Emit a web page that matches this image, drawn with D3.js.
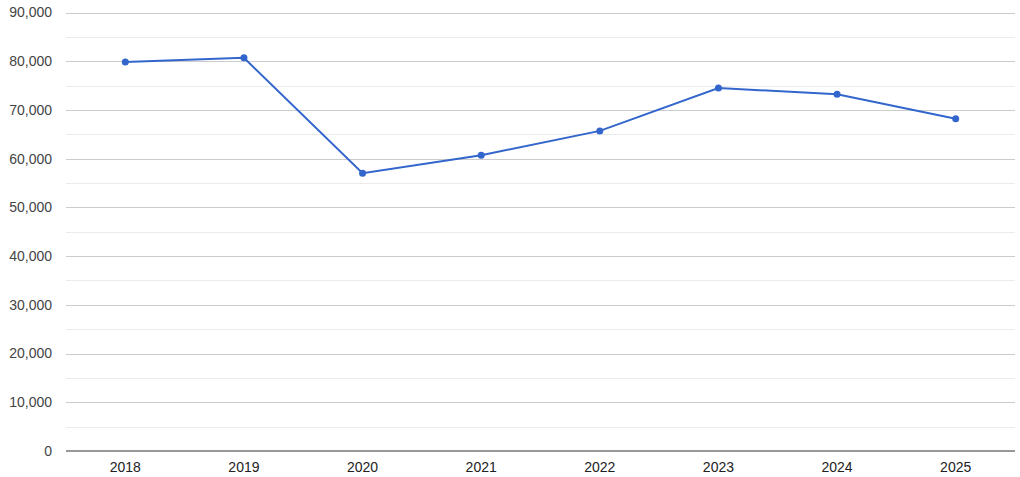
<!DOCTYPE html>
<html><head><meta charset="utf-8">
<script src="https://cdn.jsdelivr.net/npm/d3@7"></script>
<style>body{margin:0;background:#fff;}svg{display:block;font-family:"Liberation Sans",Arial,sans-serif;}</style>
</head><body><svg id="c" width="1020" height="477"></svg>
<script>
const years = ["2018","2019","2020","2021","2022","2023","2024","2025"];
const values = [79850, 80700, 57000, 60700, 65700, 74500, 73200, 68200];
const yTicks = [0,10000,20000,30000,40000,50000,60000,70000,80000,90000];
const yMinor = [5000,15000,25000,35000,45000,55000,65000,75000,85000];

const svg = d3.select("#c");
const L=66, R=1015, T=12.5, B=451;
const x = d3.scaleBand().domain(years).range([L,R]);
const y = d3.scaleLinear().domain([0,90000]).range([B,T]);
const fmt = d3.format(",");

svg.selectAll(".minor").data(yMinor).join("line")
  .attr("x1",L).attr("x2",R).attr("y1",d=>Math.round(y(d))+0.5).attr("y2",d=>Math.round(y(d))+0.5)
  .attr("stroke","#ebebeb").attr("stroke-width",1);
svg.selectAll(".major").data(yTicks.filter(d=>d>0)).join("line")
  .attr("x1",L).attr("x2",R).attr("y1",d=>Math.round(y(d))+0.5).attr("y2",d=>Math.round(y(d))+0.5)
  .attr("stroke","#cccccc").attr("stroke-width",1);
svg.append("line").attr("x1",L).attr("x2",R).attr("y1",B).attr("y2",B)
  .attr("stroke","#333").attr("stroke-width",1.2);

svg.selectAll(".yl").data(yTicks).join("text")
  .attr("x",52).attr("y",d=>y(d)).attr("dy","0.35em").attr("text-anchor","end")
  .attr("font-size",14).attr("fill","#444").text(d=>fmt(d));
svg.selectAll(".xl").data(years).join("text")
  .attr("x",d=>x(d)+x.bandwidth()/2).attr("y",472).attr("text-anchor","middle")
  .attr("font-size",14).attr("fill","#222").text(d=>d);

const line = d3.line().x((d,i)=>x(years[i])+x.bandwidth()/2).y(d=>y(d));
svg.append("path").datum(values).attr("d",line).attr("fill","none")
  .attr("stroke","#3366cc").attr("stroke-width",2);
svg.selectAll(".pt").data(values).join("circle")
  .attr("cx",(d,i)=>x(years[i])+x.bandwidth()/2).attr("cy",d=>y(d)).attr("r",3.5)
  .attr("fill","#3366cc");
</script></body></html>
